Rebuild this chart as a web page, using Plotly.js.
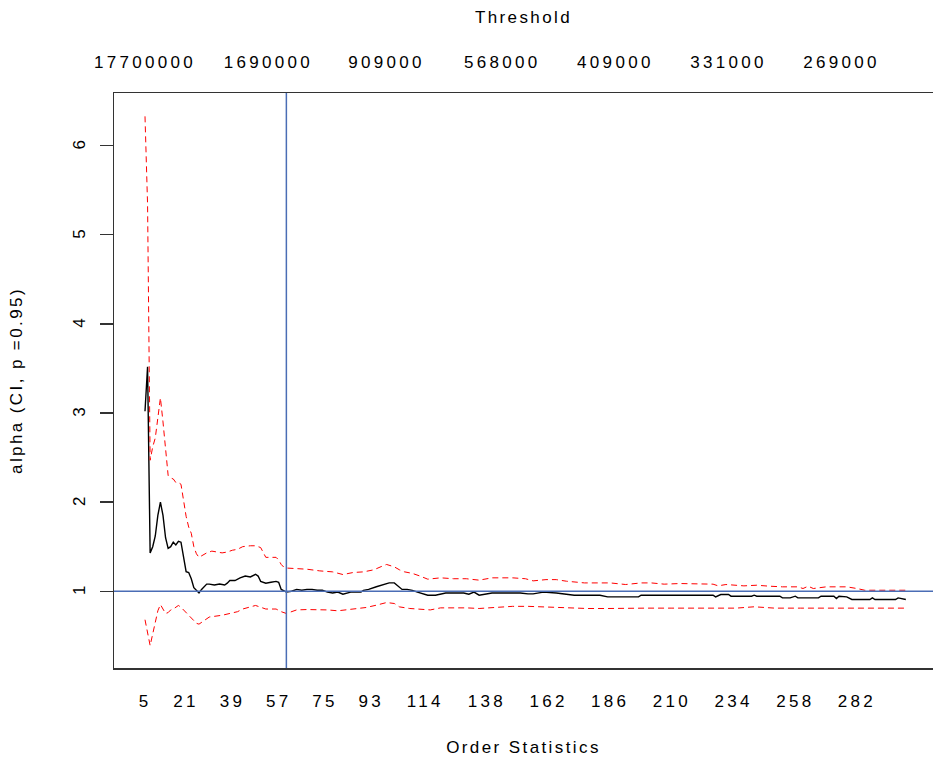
<!DOCTYPE html>
<html>
<head>
<meta charset="utf-8">
<script src="https://cdn.plot.ly/plotly-3.0.1.min.js"></script>
<style>
  html, body { margin: 0; padding: 0; background: #ffffff; overflow: hidden; }
  #plot { width: 933px; height: 763px; }
  #plot .xtick text, #plot .x2tick text, #plot .ytick text { letter-spacing: 3.3px; }
  #plot .g-xtitle text, #plot .g-x2title text, #plot .g-ytitle text { letter-spacing: 2.4px; }
</style>
</head>
<body>
<div id="plot"></div>
<script>
// ---- Hill estimate of alpha (black line) ----
const kHill = [5,6,7,8,9,10,11,12,13,14,15,16,17,18,19,20,21,22,23,24,25,26,27,28,29,30,
  32,34,36,37,38,40,42,44,46,48,49,50,52,54,56,57,58,60,62,64,
  66,68,70,72,74,76,78,80,82,85,89,90,92,95,98,100,102,104,105,107,109,111,113,115,118,
  122,124,129,131,133,135,138,140,148,151,154,156,160,165,172,182,185,
  197,198,226,227,229,232,233,241,242,243,252,253,256,258,259,267,268,273,274,275,278,280,
  287,288,289,297,298,301];
const alphaHill = [3.02,3.52,1.43,1.50,1.62,1.85,2.00,1.85,1.60,1.48,1.50,1.55,1.52,1.56,1.55,1.38,1.22,1.21,1.14,1.04,1.01,0.98,1.02,1.05,1.08,1.08,
  1.07,1.08,1.07,1.09,1.12,1.12,1.15,1.17,1.16,1.19,1.17,1.11,1.09,1.10,1.11,1.10,1.02,0.99,1.00,1.02,
  1.01,1.02,1.02,1.01,1.01,0.99,0.98,0.99,0.966,0.99,0.99,1.01,1.02,1.05,1.075,1.093,1.093,1.05,1.02,1.02,1.01,0.99,0.975,0.955,0.955,
  0.98,0.98,0.98,0.966,0.99,0.955,0.966,0.98,0.98,0.98,0.97,0.97,0.99,0.98,0.955,0.955,0.936,
  0.936,0.955,0.955,0.936,0.963,0.963,0.944,0.944,0.955,0.944,0.944,0.925,0.925,0.944,0.925,0.925,0.944,0.944,0.918,0.944,0.936,0.907,
  0.907,0.925,0.907,0.907,0.925,0.907];

// ---- Upper confidence bound (red dashed) ----
const kUpper = [5,6,7,8,9,10,11,12,13,14,15,16,17,18,19,20,21,22,23,24,25,26,27,29,31,33,35,37,39,41,43,46,48,50,51,52,54,56,57,58,59,60,
  63,68,73,78,82,86,90,94,98,99,102,104,106,109,112,115,120,125,130,135,140,148,153,156,161,165,169,176,182,186,
  192,198,202,207,213,218,222,226,228,231,238,243,248,253,259,261,263,265,270,278,282,285,290,295,299,301];
const alphaUpper = [6.33,5.34,2.47,2.62,2.72,2.95,3.17,2.90,2.55,2.30,2.27,2.26,2.22,2.22,2.20,2.00,1.84,1.72,1.65,1.50,1.42,1.38,1.40,1.43,1.45,1.44,1.43,1.44,1.46,1.47,1.50,1.51,1.51,1.49,1.43,1.38,1.38,1.38,1.35,1.30,1.27,1.26,
  1.255,1.247,1.228,1.217,1.187,1.21,1.217,1.24,1.29,1.30,1.273,1.24,1.217,1.20,1.17,1.135,1.15,1.14,1.14,1.124,1.15,1.15,1.14,1.116,1.13,1.13,1.112,1.093,1.093,1.093,
  1.075,1.093,1.093,1.079,1.086,1.086,1.079,1.079,1.06,1.075,1.06,1.067,1.056,1.049,1.049,1.03,1.056,1.03,1.049,1.049,1.03,1.011,1.011,1.011,1.011,1.011];

// ---- Lower confidence bound (red dashed) ----
const kLower = [5,6,7,8,9,10,11,12,13,14,15,16,17,18,19,20,21,22,23,24,25,26,27,28,30,35,38,41,43,46,48,50,52,56,58,60,
  64,68,72,76,80,84,87,91,95,99,102,104,108,112,116,120,125,130,135,140,148,154,159,164,170,177,185,
  190,200,210,220,226,235,242,250,260,270,280,290,301];
const alphaLower = [0.68,0.52,0.39,0.52,0.64,0.78,0.85,0.80,0.75,0.76,0.79,0.80,0.82,0.84,0.82,0.79,0.76,0.73,0.69,0.66,0.64,0.63,0.65,0.68,0.71,0.73,0.75,0.77,0.80,0.82,0.84,0.82,0.80,0.80,0.77,0.75,
  0.79,0.794,0.794,0.79,0.78,0.794,0.806,0.817,0.843,0.873,0.862,0.824,0.806,0.794,0.79,0.813,0.817,0.813,0.806,0.817,0.83,0.83,0.824,0.824,0.817,0.806,0.806,
  0.81,0.81,0.81,0.81,0.815,0.81,0.825,0.81,0.81,0.81,0.81,0.81,0.81];

// ---- Axis labels ----
const bottomTicks = [5,21,39,57,75,93,114,138,162,186,210,234,258,282];
const topTickPos = [5,53,99,144,188,232,276];
const topTickLabels = ["17700000","1690000","909000","568000","409000","331000","269000"];
const yTicks = [1,2,3,4,5,6];

// ---- Reference lines ----
const refK = 60;
const refAlpha = 1;

const xRange = [-7.06, 311.57];
const yRange = [0.138, 6.592];
const font = {family: "Liberation Sans, Arial, sans-serif", size: 17, color: "#000000"};

const traces = [
  {x: kHill, y: alphaHill, type: "scatter", mode: "lines",
   line: {color: "#000000", width: 1.4}, xaxis: "x", yaxis: "y"},
  {x: kUpper, y: alphaUpper, type: "scatter", mode: "lines",
   line: {color: "#ff0000", width: 1, dash: "6px,4px"}, xaxis: "x", yaxis: "y"},
  {x: kLower, y: alphaLower, type: "scatter", mode: "lines",
   line: {color: "#ff0000", width: 1, dash: "6px,4px"}, xaxis: "x", yaxis: "y"}
];

const layout = {
  width: 933, height: 763,
  margin: {l: 114, r: 0, t: 93, b: 95, pad: 0},
  paper_bgcolor: "#ffffff", plot_bgcolor: "#ffffff",
  showlegend: false,
  font: font,
  xaxis: {
    range: xRange, showgrid: false, zeroline: false,
    showline: true, linecolor: "#333333", linewidth: 1.5,
    tickmode: "array", tickvals: bottomTicks, ticktext: bottomTicks.map(String),
    ticks: "", ticklabelstandoff: 17, tickfont: font,
    title: {text: "Order Statistics", font: font, standoff: 31}
  },
  xaxis2: {
    range: xRange, overlaying: "x", side: "top", anchor: "y",
    showgrid: false, zeroline: false,
    showline: true, linecolor: "#333333", linewidth: 1.5,
    tickmode: "array", tickvals: topTickPos, ticktext: topTickLabels,
    ticks: "", ticklabelstandoff: 17, tickfont: font,
    title: {text: "Threshold", font: font, standoff: 25}
  },
  yaxis: {
    range: yRange, showgrid: false, zeroline: false,
    showline: true, linecolor: "#333333", linewidth: 1.5,
    tickmode: "array", tickvals: yTicks, ticktext: yTicks.map(String),
    ticks: "outside", ticklen: 13, tickwidth: 1.3, tickcolor: "#333333",
    tickangle: -90, ticklabelstandoff: 8, tickfont: font,
    title: {text: "alpha (CI, p =0.95)", font: font, standoff: 43}
  },
  shapes: [
    {type: "line", xref: "paper", yref: "y", x0: 0, x1: 1, y0: refAlpha, y1: refAlpha,
     line: {color: "#4a6db5", width: 1.5}},
    {type: "line", xref: "x", yref: "paper", x0: refK, x1: refK, y0: 0, y1: 1,
     line: {color: "#4a6db5", width: 1.5}}
  ]
};

// invisible trace so the top axis is drawn
traces.push({x: [xRange[0]], y: [yRange[0]], type: "scatter", mode: "markers",
  marker: {opacity: 0}, xaxis: "x2", yaxis: "y", hoverinfo: "skip"});

Plotly.newPlot("plot", traces, layout, {staticPlot: true, displayModeBar: false});
</script>
</body>
</html>
